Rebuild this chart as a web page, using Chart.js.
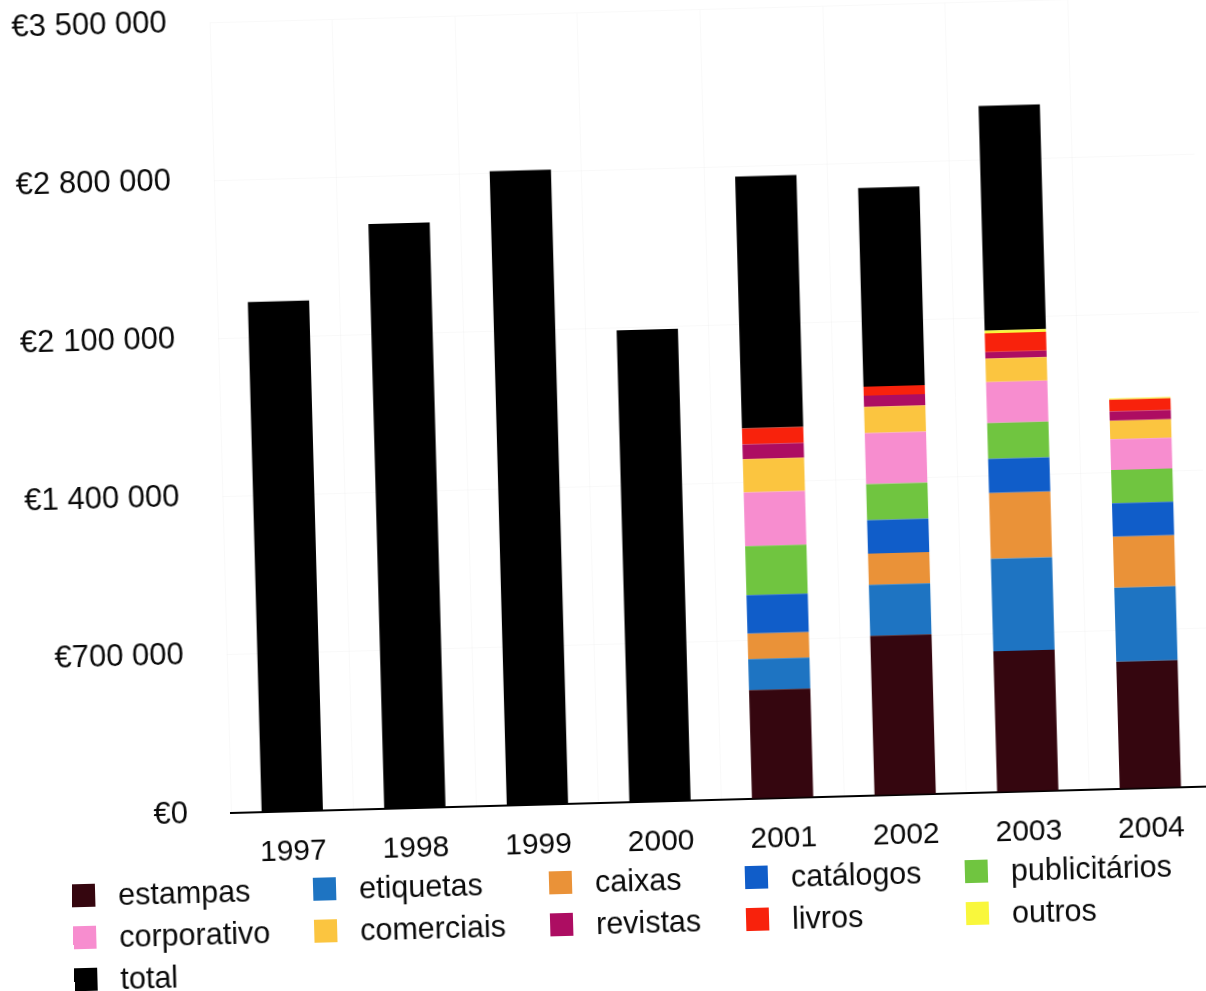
<!DOCTYPE html>
<html>
<head>
<meta charset="utf-8">
<script src="https://cdn.jsdelivr.net/npm/chart.js@4.4.1/dist/chart.umd.min.js"></script>
<style>
  html, body { margin: 0; padding: 0; background: #fff; overflow: hidden; width: 1206px; height: 991px; }
  #page { position: absolute; left: 0; top: 0; width: 1206px; height: 991px;
          transform: rotate(-1.55deg); transform-origin: 231px 813px; }
  #chart { position: absolute; left: 0; top: -39px; }
  #legend { position: absolute; left: 70px; top: 870px; display: grid;
            grid-template-columns: 241px 236px 196px 220px auto; grid-auto-rows: 42px;
            font-family: "Liberation Sans", Arial, sans-serif; font-size: 30.5px; color: #0a0a0a; }
  .item { display: flex; align-items: center; white-space: nowrap; }
  .sw { width: 23px; height: 23px; margin-right: 23px; flex: none; }
</style>
</head>
<body>
<div id="page">
  <canvas id="chart" width="1212" height="919"></canvas>
  <div id="legend"></div>
</div>
<script>
// Years on the category axis
const years = ['1997', '1998', '1999', '2000', '2001', '2002', '2003', '2004'];

// Value axis ticks (euros)
const yTicks = [0, 700000, 1400000, 2100000, 2800000, 3500000];

// Revenue by product line (euros); breakdown only from 2001 on
const estampas      = [null, null, null, null, 482000, 707000, 624000, 563000];
const etiquetas     = [null, null, null, null, 137000, 226000, 410000, 328000];
const caixas        = [null, null, null, null, 113000, 139000, 291000, 226000];
const catalogos     = [null, null, null, null, 170000, 148000, 152000, 148000];
const publicitarios = [null, null, null, null, 217000, 159000, 158000, 148000];
const corporativo   = [null, null, null, null, 238000, 226000, 182000, 136000];
const comerciais    = [null, null, null, null, 148000, 116000, 104000, 82000];
const revistas      = [null, null, null, null, 65000, 50000, 29000, 41000];
const livros        = [null, null, null, null, 71000, 40000, 83000, 52000];
const outros        = [null, null, null, null, null, null, 12000, 5000];
const total         = [2260000, 2590000, 2810000, 2090000, 1115000, 880000, 995000, null];

const series = [
  ['estampas', estampas, '#35060f'],
  ['etiquetas', etiquetas, '#1e74c2'],
  ['caixas', caixas, '#ea9238'],
  ['catálogos', catalogos, '#105dc9'],
  ['publicitários', publicitarios, '#70c540'],
  ['corporativo', corporativo, '#f78dcf'],
  ['comerciais', comerciais, '#fbc540'],
  ['revistas', revistas, '#ad0d62'],
  ['livros', livros, '#f8220c'],
  ['outros', outros, '#f9f73c'],
  ['total', total, '#000000']
];

const FONT = '"Liberation Sans", Arial, sans-serif';
Chart.defaults.font.family = FONT;
Chart.defaults.color = '#0a0a0a';

const euro = v => '€' + String(v).replace(/\B(?=(\d{3})+(?!\d))/g, ' ');

const chart = new Chart(document.getElementById('chart'), {
  type: 'bar',
  data: {
    labels: years,
    datasets: series.map(([label, data, color]) => ({
      label, data, backgroundColor: color, borderWidth: 0,
      barPercentage: 0.5, categoryPercentage: 1.0
    }))
  },
  options: {
    responsive: false,
    animation: false,
    layout: { padding: { top: 23, right: 0, left: 0, bottom: 0 } },
    plugins: { legend: { display: false }, tooltip: { enabled: false } },
    scales: {
      x: {
        stacked: true,
        grid: { display: true, offset: true, drawTicks: false, color: 'rgba(0,0,0,0.022)' },
        border: { display: true, color: '#000', width: 2 },
        ticks: { font: { size: 30 }, padding: 23, color: '#0a0a0a' },
        afterFit: s => { s.height = 67; }
      },
      y: {
        stacked: true,
        min: 0, max: yTicks[yTicks.length - 1],
        afterBuildTicks: s => { s.ticks = yTicks.map(v => ({ value: v })); },
        grid: { drawTicks: false, color: 'rgba(0,0,0,0.022)' },
        border: { display: false },
        ticks: { font: { size: 31 }, padding: 43, color: '#0a0a0a', callback: v => euro(v) },
        afterFit: s => { s.width = 231; }
      }
    }
  }
});

// Legend laid out as a five-column grid
const legend = document.getElementById('legend');
chart.data.datasets.forEach(ds => {
  const item = document.createElement('div');
  item.className = 'item';
  const sw = document.createElement('span');
  sw.className = 'sw';
  sw.style.background = ds.backgroundColor;
  const tx = document.createElement('span');
  tx.textContent = ds.label;
  item.appendChild(sw);
  item.appendChild(tx);
  legend.appendChild(item);
});
</script>
</body>
</html>
